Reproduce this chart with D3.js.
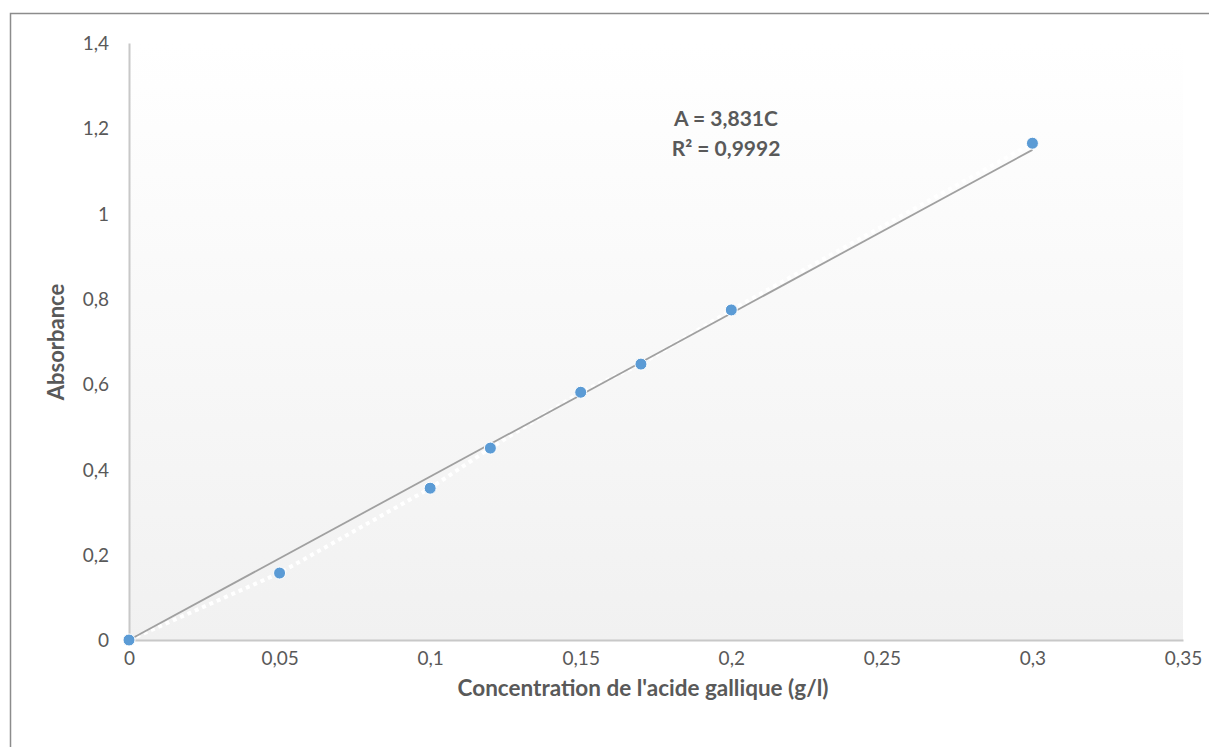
<!DOCTYPE html>
<html><head><meta charset="utf-8">
<script src="https://cdn.jsdelivr.net/npm/d3@7"></script>
<style>body{margin:0;background:#fff;}svg{display:block;font-family:Lato,"Open Sans",sans-serif;}</style>
</head><body><svg id="c" width="1209" height="747"></svg>
<script>
const concentrations = [0, 0.05, 0.1, 0.12, 0.15, 0.17, 0.2, 0.3];
const absorbances = [0, 0.157, 0.356, 0.45, 0.581, 0.647, 0.774, 1.165];
const xTicks = [0, 0.05, 0.1, 0.15, 0.2, 0.25, 0.3, 0.35];
const yTicks = [0, 0.2, 0.4, 0.6, 0.8, 1, 1.2, 1.4];
const slope = 3.831;
const equationLines = ["A = 3,831C", "R² = 0,9992"];
const xTitle = "Concentration de l'acide gallique (g/l)";
const yTitle = "Absorbance";

const svg = d3.select("#c");
const x = d3.scaleLinear().domain([0, 0.35]).range([129, 1183]);
const y = d3.scaleLinear().domain([0, 1.4]).range([640, 43]);
const fmt = d => String(d).replace(".", ",");

// outer border
svg.append("rect").attr("x", 10.5).attr("y", 13.5).attr("width", 1210).attr("height", 760)
  .attr("fill", "#fff").attr("stroke", "#8c8c8c").attr("stroke-width", 1.5);

const defs = svg.append("defs");
const g = defs.append("linearGradient").attr("id", "bg").attr("x1", 0).attr("x2", 0).attr("y1", 0).attr("y2", 1);
g.append("stop").attr("offset", "0%").attr("stop-color", "#ffffff");
g.append("stop").attr("offset", "100%").attr("stop-color", "#f1f1f1");
svg.append("rect").attr("x", x(0)).attr("y", y(1.4)).attr("width", x(0.35) - x(0)).attr("height", y(0) - y(1.4))
  .attr("fill", "url(#bg)");

// axes
const xAxis = svg.append("g").attr("transform", `translate(0,${y(0)})`)
  .call(d3.axisBottom(x).tickValues(xTicks).tickFormat(fmt).tickSize(0).tickPadding(12));
const yAxis = svg.append("g").attr("transform", `translate(${x(0)},0)`)
  .call(d3.axisLeft(y).tickValues(yTicks).tickFormat(fmt).tickSize(0).tickPadding(20));
[xAxis, yAxis].forEach(a => {
  a.select(".domain").attr("stroke", "#c8c8c8").attr("stroke-width", 2);
  a.selectAll("text").attr("fill", "#595959").style("font-size", "19px").style("font-family", "Lato, 'Open Sans', sans-serif");
});
yAxis.selectAll("text").attr("dy", "0.35em");

// series line (white dotted)
const line = d3.line().x((d, i) => x(concentrations[i])).y(d => y(d));
svg.append("path").datum(absorbances).attr("d", line).attr("fill", "none")
  .attr("stroke", "#ffffff").attr("stroke-width", 4).attr("stroke-dasharray", "4,4");

// trendline
svg.append("line").attr("x1", x(0)).attr("y1", y(0)).attr("x2", x(0.3)).attr("y2", y(slope * 0.3))
  .attr("stroke", "#a0a0a0").attr("stroke-width", 1.8);

// points
svg.selectAll("circle.pt").data(absorbances).enter().append("circle").attr("class", "pt")
  .attr("cx", (d, i) => x(concentrations[i])).attr("cy", d => y(d)).attr("r", 6)
  .attr("fill", "#5b9bd5").attr("stroke", "#ffffff").attr("stroke-width", 1);

// equation
svg.append("text").attr("x", 726).attr("y", 126).attr("text-anchor", "middle")
  .attr("fill", "#595959").style("font-size", "21px").style("font-weight", "bold")
  .selectAll("tspan").data(equationLines).enter().append("tspan")
  .attr("x", 726).attr("dy", (d, i) => i === 0 ? 0 : 30).text(d => d);

// titles
svg.append("text").attr("x", 643).attr("y", 696).attr("text-anchor", "middle")
  .attr("fill", "#595959").style("font-size", "22.5px").style("font-weight", "bold").text(xTitle);
svg.append("text").attr("transform", "translate(64,342) rotate(-90)").attr("text-anchor", "middle")
  .attr("fill", "#595959").style("font-size", "22px").style("font-weight", "bold").text(yTitle);
</script></body></html>
